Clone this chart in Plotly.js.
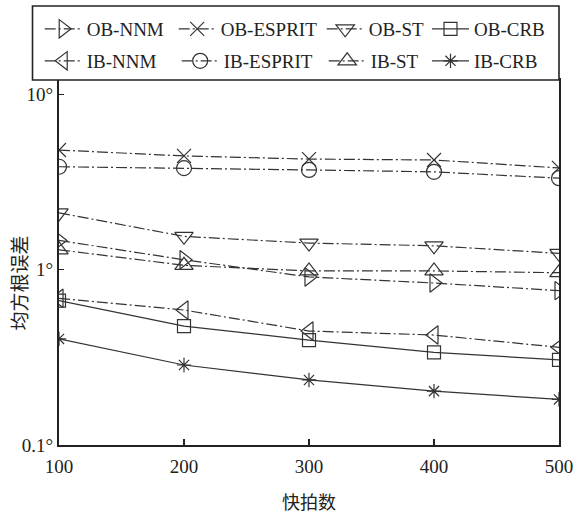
<!DOCTYPE html>
<html>
<head>
<meta charset="utf-8">
<script src="https://cdn.plot.ly/plotly-3.0.1.min.js"></script>
<style>html,body{margin:0;padding:0;background:#fff;}#chart{width:573px;height:514px;}</style>
</head>
<body>
<div id="chart"></div>
<script>
// ---- data ----
const snapshots = [100, 200, 300, 400, 500];
const obNNM    = [1.47, 1.14, 0.91, 0.84, 0.76];
const obESPRIT = [4.82, 4.46, 4.28, 4.23, 3.81];
const obST     = [2.11, 1.55, 1.42, 1.37, 1.24];
const obCRB    = [0.666, 0.477, 0.397, 0.338, 0.306];
const ibNNM    = [0.687, 0.589, 0.447, 0.424, 0.361];
const ibESPRIT = [3.87, 3.80, 3.71, 3.62, 3.33];
const ibST     = [1.30, 1.06, 0.984, 0.984, 0.962];
const ibCRB    = [0.403, 0.286, 0.235, 0.203, 0.182];
const seriesNames = ['OB-NNM', 'OB-ESPRIT', 'OB-ST', 'OB-CRB', 'IB-NNM', 'IB-ESPRIT', 'IB-ST', 'IB-CRB'];
const yTickVals = [0.1, 1, 10];
const yTickText = ['0.1°', '1°', '10°'];
const xTitle = '快拍数';
const yTitle = '均方根误差';

const ink = '#222';
const serif = 'Liberation Serif, Times New Roman, serif';
const cjk = 'Noto Sans CJK SC, sans-serif';
const dashDot = '11px,3px,2px,3px';

function tr(name, y, symbol, size, dash, legendId, lw) {
  return {
    x: snapshots, y: y, name: name, type: 'scatter', mode: 'lines+markers',
    line: {color: '#333', width: 1.2, dash: dash},
    marker: {symbol: symbol, size: size, color: '#333', line: {color: '#333', width: 1.2}},
    legend: legendId, legendwidth: lw
  };
}

const data = [
  tr(seriesNames[0], obNNM, 'triangle-right-open', 16, dashDot, 'legend', 82),
  tr(seriesNames[1], obESPRIT, 'x-thin-open', 14, dashDot, 'legend', 96),
  tr(seriesNames[2], obST, 'triangle-down-open', 16, dashDot, 'legend', 60),
  tr(seriesNames[3], obCRB, 'square-open', 13, 'solid', 'legend3', 80),
  tr(seriesNames[4], ibNNM, 'triangle-left-open', 16, dashDot, 'legend2', 85),
  tr(seriesNames[5], ibESPRIT, 'circle-open', 15, dashDot, 'legend2', 95),
  tr(seriesNames[6], ibST, 'triangle-up-open', 16, dashDot, 'legend2', 60),
  tr(seriesNames[7], ibCRB, 'asterisk-open', 12, 'solid', 'legend4', 80)
];

const legendCommon = {
  orientation: 'h', xref: 'container', yref: 'container',
  xanchor: 'left', yanchor: 'middle',
  bgcolor: 'rgba(0,0,0,0)', borderwidth: 0, itemwidth: 37,
  font: {family: serif, size: 19, color: ink}, tracegroupgap: 0
};
const row1Y = 1 - 29 / 514, row2Y = 1 - 61 / 514;
const col1X = 39.7 / 573, col4X = 427 / 573;

const layout = {
  width: 573, height: 514,
  margin: {l: 59, r: 14, t: 80, b: 69, autoexpand: false},
  paper_bgcolor: '#fff', plot_bgcolor: '#fff',
  font: {family: serif, size: 19, color: ink},
  showlegend: true,
  legend: Object.assign({}, legendCommon, {x: col1X, y: row1Y}),
  legend2: Object.assign({}, legendCommon, {x: col1X, y: row2Y}),
  legend3: Object.assign({}, legendCommon, {x: col4X, y: row1Y}),
  legend4: Object.assign({}, legendCommon, {x: col4X, y: row2Y}),
  xaxis: {
    range: [100, 500], tickvals: snapshots, ticks: 'inside', ticklen: 6, tickwidth: 1.2,
    tickcolor: ink, showline: true, linecolor: ink, linewidth: 2, mirror: true,
    showgrid: false, zeroline: false, ticklabeloverflow: 'allow', ticklabelstandoff: 3,
    tickfont: {family: serif, size: 19, color: ink},
    title: {text: xTitle, font: {family: cjk, size: 18, color: ink}, standoff: 21}
  },
  yaxis: {
    type: 'log', range: [-1, 1.0827], tickvals: yTickVals, ticktext: yTickText,
    ticks: 'inside', ticklen: 5, tickwidth: 1.2, tickcolor: ink,
    showline: true, linecolor: ink, linewidth: 2, mirror: true,
    showgrid: false, zeroline: false,
    tickfont: {family: serif, size: 19, color: ink}
  },
  shapes: [{
    type: 'rect', xref: 'paper', yref: 'paper', layer: 'above',
    x0: -0.053, x1: 1.0, y0: 1.0, y1: 1 + 74 / 365,
    line: {color: ink, width: 1.6}, fillcolor: '#fff'
  }],
  annotations: [{
    text: yTitle, xref: 'paper', yref: 'paper', x: -0.082, y: 0.4425,
    xanchor: 'center', yanchor: 'middle', textangle: -90, showarrow: false,
    font: {family: cjk, size: 19, color: ink}
  }]
};

Plotly.newPlot('chart', data, layout, {displayModeBar: false, staticPlot: true});
</script>
</body>
</html>
